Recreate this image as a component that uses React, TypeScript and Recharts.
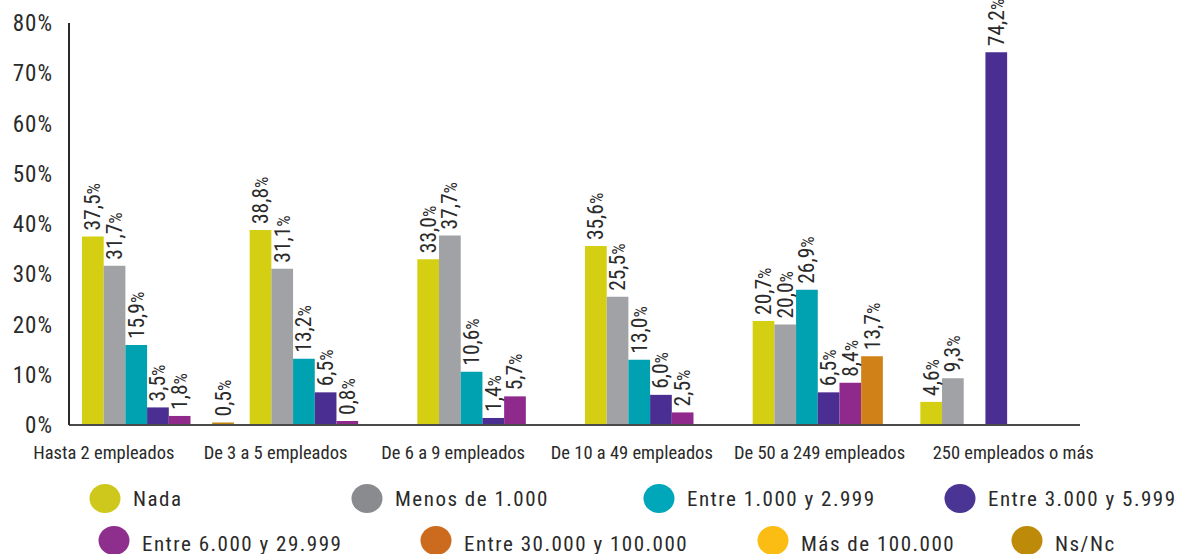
import React from 'react';
import { BarChart, Bar, XAxis, YAxis, LabelList, Legend } from 'recharts';

const categories = [
  'Hasta 2 empleados',
  'De 3 a 5 empleados',
  'De 6 a 9 empleados',
  'De 10 a 49 empleados',
  'De 50 a 249 empleados',
  '250 empleados o más',
];

const nada = [37.5, 38.8, 33.0, 35.6, 20.7, 4.6];
const menos1000 = [31.7, 31.1, 37.7, 25.5, 20.0, 9.3];
const entre1000 = [15.9, 13.2, 10.6, 13.0, 26.9, null];
const entre3000 = [3.5, 6.5, 1.4, 6.0, 6.5, 74.2];
const entre6000 = [1.8, 0.8, 5.7, 2.5, 8.4, null];
const entre30000 = [null, null, null, null, 13.7, null];
const mas100000 = [null, null, null, null, null, null];
const nsnc = [0.5, null, null, null, null, null];

const yTicks = [0, 10, 20, 30, 40, 50, 60, 70, 80];

const SERIES = [
  { key: 'nada', name: 'Nada', values: nada, color: '#d4cf12', legendColor: '#cfc81c', inChart: true },
  { key: 'menos1000', name: 'Menos de 1.000', values: menos1000, color: '#a1a2a5', legendColor: '#898b8e', inChart: true },
  { key: 'entre1000', name: 'Entre 1.000 y 2.999', values: entre1000, color: '#00a1b0', legendColor: '#00a7bb', inChart: true },
  { key: 'entre3000', name: 'Entre 3.000 y 5.999', values: entre3000, color: '#4a2e91', legendColor: '#4a3594', inChart: true },
  { key: 'entre6000', name: 'Entre 6.000 y 29.999', values: entre6000, color: '#8f2a8c', legendColor: '#8e2f8e', inChart: true },
  { key: 'entre30000', name: 'Entre 30.000 y 100.000', values: entre30000, color: '#d08118', legendColor: '#cc6a1e', inChart: true },
  { key: 'mas100000', name: 'Más de 100.000', values: mas100000, color: '#fbbc14', legendColor: '#fbbc14', inChart: false },
  { key: 'nsnc', name: 'Ns/Nc', values: nsnc, color: '#c0880e', legendColor: '#be8a0a', inChart: true },
];

const data = categories.map((c, i) => {
  const row: any = { category: c };
  SERIES.forEach((s) => {
    row[s.key] = s.values[i];
  });
  return row;
});

const FONT = "'Roboto Condensed', 'DejaVu Sans Condensed', 'Liberation Sans', sans-serif";
const TEXT = '#2a2a2a';

// horizontal shift of category labels relative to band centre (styling)
const LABEL_SHIFT = [-54, -50, -40, -29, -9, 17];

const XTick = (props: any) => {
  const { x, y, payload, index } = props;
  return (
    <text x={x + (LABEL_SHIFT[index] || 0)} y={y + 32} textAnchor="middle" fontFamily={FONT} fontSize={18.5} fill={TEXT}>
      {payload.value}
    </text>
  );
};

const ValueLabel = (props: any) => {
  const { x, y, width, value } = props;
  if (value === null || value === undefined) return null;
  const cx = Number(x) + Number(width) / 2;
  const top = Number(y) - 6;
  const txt = Number(value).toFixed(1).replace('.', ',');
  return (
    <text
      transform={`translate(${cx + 7.5},${top}) rotate(-90)`}
      textAnchor="start"
      fontFamily={FONT}
      fontSize={21.5}
      fill={TEXT}
    >
      <tspan>{txt}</tspan>
      <tspan fontSize={18}>%</tspan>
    </text>
  );
};

const LEGEND_POS = [
  { cx: 105, row: 0 },
  { cx: 367, row: 0 },
  { cx: 659, row: 0 },
  { cx: 960, row: 0 },
  { cx: 114, row: 1 },
  { cx: 436, row: 1 },
  { cx: 773, row: 1 },
  { cx: 1027, row: 1 },
];

const LegendContent = () => (
  <svg width={1193} height={76} style={{ display: 'block' }}>
    {SERIES.map((s, i) => {
      const p = LEGEND_POS[i];
      const cy = p.row === 0 ? 20.5 : 62.5;
      const ty = p.row === 0 ? 28 : 72.5;
      return (
        <g key={s.key}>
          <ellipse cx={p.cx} cy={cy} rx={15.5} ry={14.5} fill={s.legendColor} />
          <text x={p.cx + 28} y={ty} fontFamily={FONT} fontSize={21} letterSpacing={1.5} fill={TEXT}>
            {s.name}
          </text>
        </g>
      );
    })}
  </svg>
);

export default function App() {
  return (
    <div style={{ width: 1193, height: 554, background: '#fff', position: 'relative', overflow: 'hidden' }}>
      <style>{'html,body{margin:0;padding:0;overflow:hidden;background:#fff;}'}</style>
      <BarChart
        width={1193}
        height={554}
        data={data}
        margin={{ top: 23, right: 113, bottom: 99, left: 9 }}
        barGap={0}
        barCategoryGap={7}
      >
        <XAxis
          dataKey="category"
          height={30}
          tickLine={false}
          tickSize={0}
          axisLine={{ stroke: '#4a4a4a', strokeWidth: 2 }}
          tick={<XTick />}
          padding={{ left: 5, right: 0 }}
          interval={0}
        />
        <YAxis
          width={60}
          domain={[0, 80]}
          ticks={yTicks}
          tickFormatter={(v: number) => `${v}%`}
          tickLine={false}
          tickSize={0}
          tickMargin={16}
          axisLine={{ stroke: '#2a2a2a', strokeWidth: 2 }}
          tick={{ fontFamily: FONT, fontSize: 23, fill: TEXT, letterSpacing: 1 }}
          allowDataOverflow
        />
        <Legend
          layout="horizontal"
          verticalAlign="middle"
          align="center"
          content={<LegendContent />}
          wrapperStyle={{ left: 0, top: 478, width: 1193, height: 76 }}
        />
        {SERIES.filter((s) => s.inChart).map((s) => (
          <Bar key={s.key} dataKey={s.key} name={s.name} fill={s.color} barSize={21.7} isAnimationActive={false}>
            <LabelList dataKey={s.key} content={<ValueLabel />} />
          </Bar>
        ))}
      </BarChart>
    </div>
  );
}
